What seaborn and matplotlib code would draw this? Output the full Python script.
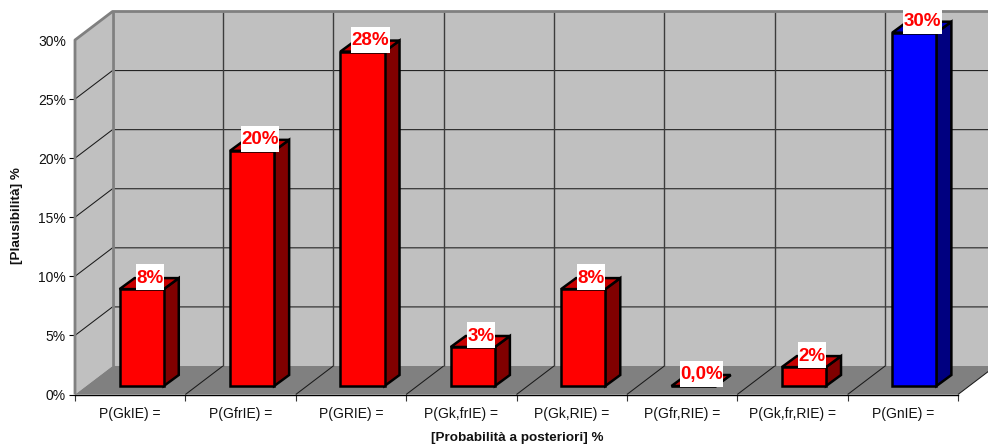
"""3D-look column chart of posterior probabilities, drawn on a flat seaborn barplot."""
import matplotlib
matplotlib.use("Agg")
import matplotlib.pyplot as plt
from matplotlib.patches import Polygon, Rectangle
import seaborn as sns

categories = ["P(GkIE) =", "P(GfrIE) =", "P(GRIE) =", "P(Gk,frIE) =",
              "P(Gk,RIE) =", "P(Gfr,RIE) =", "P(Gk,fr,RIE) =", "P(GnIE) ="]
values = [8.2, 19.9, 28.3, 3.3, 8.2, 0.0, 1.6, 29.9]
value_labels = ["8%", "20%", "28%", "3%", "8%", "0,0%", "2%", "30%"]
y_ticks = [0, 5, 10, 15, 20, 25, 30]
y_tick_labels = ["0%", "5%", "10%", "15%", "20%", "25%", "30%"]
front_colors = ["#FF0000"] * 7 + ["#0000FF"]
side_colors = ["#800000"] * 7 + ["#000080"]
top_colors = ["#C80000"] * 7 + ["#0000C0"]

sns.set_theme(style="white")
plt.rcParams["font.family"] = ["Liberation Sans", "DejaVu Sans"]

W, H = 988, 446
fig = plt.figure(figsize=(W / 100, H / 100), dpi=100, facecolor="white")
ax = fig.add_axes([75 / W, (H - 394.5) / H, (958 - 75) / W, (394.5 - 40) / H])
ax.patch.set_visible(False)

# scale: pixels per category / per percent
PX_X = (958 - 75) / 8
PX_Y = (394.5 - 40) / 30
DX, DY = 37.5 / PX_X, 28.5 / PX_Y         # wall depth
BX, BY = 15 / PX_X, 11 / PX_Y             # bar depth
BAR_SHIFT = 11.5 / PX_X
BAR_BASE = 8.5 / PX_Y
X0, X1 = -0.5, 7.5


def add_poly(pts, color, z, lw=0, edge="none"):
    ax.add_patch(Polygon(pts, closed=True, facecolor=color, edgecolor=edge,
                         linewidth=lw, clip_on=False, zorder=z, joinstyle="miter"))


def add_line(xs, ys, color="#1a1a1a", lw=0.75, z=1.2):
    ax.plot(xs, ys, color=color, lw=lw, clip_on=False, zorder=z, solid_capstyle="butt")


# front faces
sns.barplot(x=categories, y=values, hue=categories, palette=front_colors, legend=False,
            width=0.4, bottom=BAR_BASE, saturation=1, edgecolor="black", linewidth=1.8,
            ax=ax, zorder=3)
bars = [p for p in ax.patches if isinstance(p, Rectangle)]

# walls and floor
add_poly([(X0, 0), (X0 + DX, DY), (X0 + DX, 30 + DY), (X0, 30)], "#C0C0C0", 1)
add_poly([(X0 + DX, DY), (X1 + DX, DY), (X1 + DX, 30 + DY), (X0 + DX, 30 + DY)], "#C0C0C0", 1)
add_poly([(X0, 0), (X1, 0), (X1 + DX, DY), (X0 + DX, DY)], "#808080", 1.1)

# gridlines on the walls and the floor
for t in y_ticks[1:-1]:
    add_line([X0, X0 + DX, X1 + DX], [t, t + DY, t + DY])
for i in range(1, 9):
    add_line([X0 + i, X0 + i + DX], [0, DY])
    add_line([X0 + i + DX, X0 + i + DX], [DY, 30 + DY], color="#3c3c3c", lw=1.0)

# wall outline
add_line([X0, X0, X0 + DX, X1 + DX], [0, 30, 30 + DY, 30 + DY], color="#808080", lw=2.0, z=1.4)
add_line([X0 + DX, X0 + DX], [DY, 30 + DY], color="#808080", lw=2.0, z=1.4)

renderer = fig.canvas.get_renderer()
for i, bar in enumerate(bars):
    bar.set_x(bar.get_x() + BAR_SHIFT)
    bar.set_clip_on(False)
    x, w = bar.get_x(), bar.get_width()
    y = BAR_BASE
    top = y + values[i]
    add_poly([(x + w, y), (x + w + BX, y + BY), (x + w + BX, top + BY), (x + w, top)],
             side_colors[i], 2.5, lw=1.8, edge="black")
    add_poly([(x, top), (x + w, top), (x + w + BX, top + BY), (x + BX, top + BY)],
             top_colors[i], 2.5, lw=1.8, edge="black")
    cx = x + w / 2 + BX / 2 + 0.5 / PX_X
    label = ax.annotate(value_labels[i], (cx, top), xytext=(0, 11),
                        textcoords="offset pixels", ha="center", va="center",
                        color="#FF0000", fontsize=13.5, fontweight="bold", zorder=6,
                        annotation_clip=False)
    # white box as wide as the text and 26 px tall
    box_w = (label.get_window_extent(renderer).width + 1) / PX_X
    ax.add_patch(Rectangle((cx - box_w / 2, top - 1 / PX_Y), box_w, 26 / PX_Y,
                           facecolor="white", edgecolor="none", zorder=5, clip_on=False))

ax.set_xlim(X0, X1)
ax.set_ylim(0, 30)
sns.despine(ax=ax, left=True, top=True, right=True)
ax.spines["bottom"].set_color("black")
ax.spines["bottom"].set_linewidth(1.0)
ax.spines["bottom"].set_zorder(1.5)

# axes ticks
ax.set_yticks(y_ticks, y_tick_labels)
ax.tick_params(axis="y", length=4.5, width=0.8, color="black", pad=2,
               labelsize=10, labelcolor="#111111", left=True)
ax.yaxis.get_major_ticks()[-1].tick1line.set_visible(False)
ax.set_xticks(range(8), categories)
ax.set_xticks([X0 + i for i in range(9)], minor=True)
ax.tick_params(axis="x", which="major", length=0, pad=9, labelsize=10, labelcolor="#111111")
ax.tick_params(axis="x", which="minor", length=4.5, width=0.8, color="#333333", bottom=True)

fig.text(517 / W, 1 - 437.5 / H, "[Probabilità a posteriori] %", ha="center", va="center",
         fontsize=9.7, fontweight="bold", color="#111111")
fig.text(17 / W, 1 - 216 / H, "[Plausibilità] %", ha="center", va="center", rotation=90,
         fontsize=9.7, fontweight="bold", color="#111111")

fig.savefig("out.png", dpi=100)
